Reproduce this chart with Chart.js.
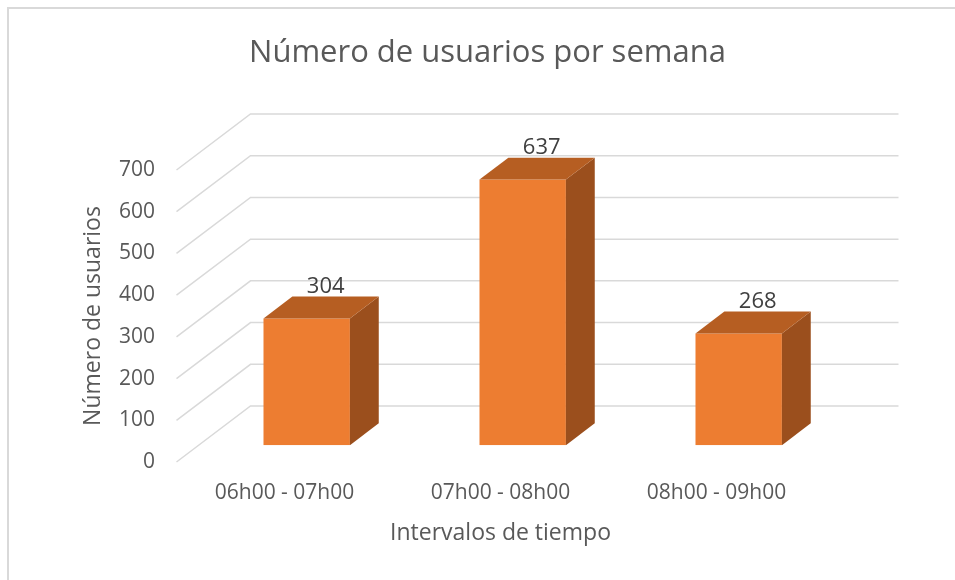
<!DOCTYPE html>
<html>
<head>
<meta charset="utf-8">
<script src="https://cdn.jsdelivr.net/npm/chart.js@4.4.1/dist/chart.umd.min.js"></script>
<style>
  html, body { margin: 0; padding: 0; background: #fff; overflow: hidden; }
  #wrap { position: relative; width: 955px; height: 580px; }
  #frame { position: absolute; left: 7px; top: 7px; width: 1000px; height: 1000px;
           border: 2px solid #d9d9d9; box-sizing: border-box; }
  canvas { position: absolute; left: 0; top: 0; }
</style>
</head>
<body>
<div id="wrap">
  <div id="frame"></div>
  <canvas id="usersChart" width="955" height="580"></canvas>
</div>
<script>
// data
const categories = ["06h00 - 07h00", "07h00 - 08h00", "08h00 - 09h00"];
const usuarios = [304, 637, 268];
const yMin = 0;
const yMax = 700;
const yStep = 100;

// 3D look: depth vector of the "box" (front plane -> back wall)
const depth = { dx: 74, dy: -56 };
const barFront = 0.3;  // where the bar front face sits in the depth
const barDepth = 0.39; // how deep each bar is

const textColor = "#595959";
const fontFamily = "'Open Sans', 'Noto Sans', sans-serif";

const box3d = {
  id: "box3d",
  beforeDatasetsDraw(chart) {
    const { ctx, chartArea } = chart;
    const y = chart.scales.y;
    ctx.save();
    ctx.strokeStyle = "#d9d9d9";
    ctx.lineWidth = 1.5;
    y.ticks.forEach((t) => {
      const py = y.getPixelForValue(t.value);
      ctx.beginPath();
      ctx.moveTo(chartArea.left, py);
      ctx.lineTo(chartArea.left + depth.dx, py + depth.dy);
      ctx.lineTo(chartArea.right + depth.dx, py + depth.dy);
      ctx.stroke();
    });
    ctx.restore();
    // push the real bars back into the box
    ctx.save();
    ctx.translate(depth.dx * barFront, depth.dy * barFront);
  },
  afterDatasetsDraw(chart) {
    const { ctx } = chart;
    const ox = depth.dx * barDepth;
    const oy = depth.dy * barDepth;
    chart.getDatasetMeta(0).data.forEach((bar, i) => {
      const { x, y, base, width } = bar.getProps(["x", "y", "base", "width"], true);
      const l = x - width / 2;
      const r = x + width / 2;
      // side
      ctx.fillStyle = "#9b4f1d";
      ctx.beginPath();
      ctx.moveTo(r, y);
      ctx.lineTo(r + ox, y + oy);
      ctx.lineTo(r + ox, base + oy);
      ctx.lineTo(r, base);
      ctx.closePath();
      ctx.fill();
      // top
      ctx.fillStyle = "#b65e22";
      ctx.beginPath();
      ctx.moveTo(l, y);
      ctx.lineTo(l + ox, y + oy);
      ctx.lineTo(r + ox, y + oy);
      ctx.lineTo(r, y);
      ctx.closePath();
      ctx.fill();
      // value label
      ctx.fillStyle = "#404040";
      ctx.font = "22px " + fontFamily;
      ctx.textAlign = "center";
      ctx.textBaseline = "middle";
      ctx.fillText(String(usuarios[i]), x + 19, y - 32);
    });
    ctx.restore();
  },
};

const ctx = document.getElementById("usersChart").getContext("2d");
const chart = new Chart(ctx, {
  type: "bar",
  data: {
    labels: categories,
    datasets: [
      {
        label: "Número de usuarios",
        data: usuarios,
        backgroundColor: "#ed7d31",
        borderWidth: 0,
        barPercentage: 0.4,
        categoryPercentage: 1.0,
      },
    ],
  },
  options: {
    responsive: false,
    animation: false,
    layout: { padding: { left: 20, right: 0, top: 0, bottom: 0 } },
    plugins: {
      legend: { display: false },
      tooltip: { enabled: false },
      title: {
        display: true,
        text: "Número de usuarios por semana",
        color: textColor,
        font: { family: fontFamily, size: 31, weight: "normal" },
        padding: { top: 34.4, bottom: 98.4 },
      },
    },
    scales: {
      x: {
        grid: { display: false, drawTicks: false },
        border: { display: false },
        ticks: {
          color: textColor,
          font: { family: fontFamily, size: 21 },
          padding: 18.5,
          maxRotation: 0,
        },
        title: {
          display: true,
          text: "Intervalos de tiempo",
          color: textColor,
          font: { family: fontFamily, size: 23 },
          padding: { top: 0, bottom: 33.2 },
        },
        afterFit: (s) => { s.height = 118; },
      },
      y: {
        min: yMin,
        max: yMax,
        grid: { display: false, drawTicks: false },
        border: { display: false },
        ticks: {
          stepSize: yStep,
          color: textColor,
          font: { family: fontFamily, size: 21 },
          padding: 21.5,
        },
        title: {
          display: true,
          text: "Número de usuarios",
          color: textColor,
          font: { family: fontFamily, size: 23 },
          padding: { top: 59.2, bottom: 0 },
        },
        afterFit: (s) => { s.width = 156.5; },
      },
      // empty right-hand axis, only keeps room for the 3D depth
      y2: {
        position: "right",
        grid: { display: false, drawTicks: false },
        border: { display: false },
        ticks: { display: false },
        afterFit: (s) => { s.width = 130.5; },
      },
    },
  },
  plugins: [box3d],
});
</script>
</body>
</html>
